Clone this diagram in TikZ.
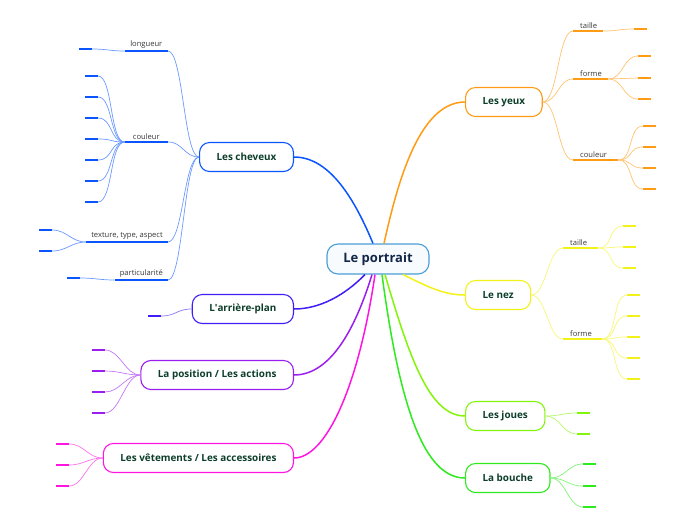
\documentclass[tikz,border=0pt]{standalone}
\usepackage{fontspec}
\setmainfont{Open Sans}
\usepackage{tikz}
\usetikzlibrary{positioning,calc}

\definecolor{hubLine}{RGB}{74,158,214}
\definecolor{hubFill}{RGB}{247,251,254}
\definecolor{hubText}{RGB}{18,38,72}
\definecolor{boxText}{RGB}{12,62,42}
\definecolor{labelText}{RGB}{55,55,55}
\definecolor{cChev}{RGB}{10,85,255}
\definecolor{cArr}{RGB}{65,30,245}
\definecolor{cPos}{RGB}{155,30,240}
\definecolor{cVet}{RGB}{255,20,225}
\definecolor{cYeux}{RGB}{255,155,20}
\definecolor{cNez}{RGB}{242,242,25}
\definecolor{cJoues}{RGB}{130,245,10}
\definecolor{cBouche}{RGB}{45,235,30}

\tikzset{
  hub/.style={draw=hubLine, fill=hubFill, line width=1.1pt, rounded corners=11pt,
    minimum width=102pt, minimum height=30pt, text=hubText,
    font=\fontsize{13}{15}\selectfont\bfseries},
  branch/.style={draw=#1, fill=white, line width=1.1pt, rounded corners=10pt,
    minimum height=29pt, inner xsep=17pt, text=boxText,
    font=\fontsize{9.9}{12}\selectfont\bfseries},
  main/.style={draw=#1, line width=1.5pt},
  sub/.style={draw=#1!60, line width=0.7pt},
  toL/.style={out=180, in=0, distance=15pt},
  toR/.style={out=0, in=180, distance=15pt},
  topic/.style={font=\fontsize{7.6}{9}\selectfont, text=labelText, inner xsep=5pt,
    inner ysep=2.5pt, minimum width=43pt,
    append after command={(\tikzlastnode.south west) edge[draw=#1, line width=2pt] (\tikzlastnode.south east)}},
  topicR/.style={topic=#1, minimum width=0pt, inner xsep=7pt, align=left, anchor=south west},
  leaf/.style={fill=#1, minimum width=13pt, minimum height=2pt, inner sep=0pt}
}

\begin{document}
\begin{tikzpicture}[x=1pt,y=-1pt]
\useasboundingbox (0,0) rectangle (696,520);

% centre
\node[hub] (hub) at (378,259) {Le portrait};

% main branches
\node[branch=cChev, anchor=east] (cheveux) at (294,157) {Les cheveux};
\node[branch=cArr, anchor=east] (arriere) at (294,309) {L\textquotesingle arrière-plan};
\node[branch=cPos, anchor=east] (position) at (294,375) {La position / Les actions};
\node[branch=cVet, anchor=east] (vetements) at (294,458) {Les vêtements / Les accessoires};
\node[branch=cYeux, anchor=west] (yeux) at (465,102) {Les yeux};
\node[branch=cNez, anchor=west] (nez) at (465,295) {Le nez};
\node[branch=cJoues, anchor=west] (joues) at (465,416) {Les joues};
\node[branch=cBouche, anchor=west] (bouche) at (465,478) {La bouche};

\draw[main=cChev] ([xshift=-5pt]hub.north) .. controls (355,200) and (330,157) .. (cheveux.east);
\draw[main=cYeux] ([xshift=6pt]hub.north) .. controls (398,180) and (420,102) .. (yeux.west);
\draw[main=cArr] ([xshift=-13pt]hub.south) .. controls (345,295) and (320,309) .. (arriere.east);
\draw[main=cPos] ([xshift=-6pt]hub.south) .. controls (355,330) and (330,375) .. (position.east);
\draw[main=cVet] ([xshift=-3pt]hub.south) .. controls (358,390) and (325,458) .. (vetements.east);
\draw[main=cNez] ([xshift=25pt]hub.south) .. controls (430,288) and (445,295) .. (nez.west);
\draw[main=cJoues] ([xshift=7pt]hub.south) .. controls (410,360) and (430,416) .. (joues.west);
\draw[main=cBouche] ([xshift=4pt]hub.south) .. controls (400,410) and (425,478) .. (bouche.west);

% les cheveux
\node[topic=cChev, anchor=south east] (chLong) at (168,51) {longueur};
\node[topic=cChev, anchor=south east] (chCoul) at (168,142) {couleur};
\node[topic=cChev, anchor=south east] (chText) at (168,242) {texture, type, aspect};
\node[topic=cChev, anchor=south east] (chPart) at (168,280) {particularité};
\foreach \t in {chLong,chCoul,chText,chPart}
  \draw[sub=cChev] (cheveux.west) to[toL] (\t.south east);

\node[leaf=cChev, anchor=east] (chLong1) at (92,49) {};
\draw[sub=cChev] (chLong.south west) to[toL] (chLong1.east);
\foreach \y [count=\i] in {76,97,118,139,160,181,202} {
  \node[leaf=cChev, anchor=east] (chCoul\i) at (98,\y) {};
  \draw[sub=cChev] (chCoul.south west) to[toL] (chCoul\i.east);
}
\foreach \y [count=\i] in {230,251} {
  \node[leaf=cChev, anchor=east] (chText\i) at (52,\y) {};
  \draw[sub=cChev] (chText.south west) to[toL] (chText\i.east);
}
\node[leaf=cChev, anchor=east] (chPart1) at (80,278) {};
\draw[sub=cChev] (chPart.south west) to[toL] (chPart1.east);

% l'arriere-plan, la position, les vetements
\node[leaf=cArr, anchor=east] (arr1) at (161,316) {};
\draw[sub=cArr] (arriere.west) to[toL] (arr1.east);
\foreach \y [count=\i] in {350,371,392,413} {
  \node[leaf=cPos, anchor=east] (pos\i) at (105,\y) {};
  \draw[sub=cPos] (position.west) to[toL] (pos\i.east);
}
\foreach \y [count=\i] in {444,465,486} {
  \node[leaf=cVet, anchor=east] (vet\i) at (69,\y) {};
  \draw[sub=cVet] (vetements.west) to[toL] (vet\i.east);
}

% les yeux
\node[topicR=cYeux, text width=16pt] (yTaille) at (573,31) {taille};
\node[topicR=cYeux, text width=21pt] (yForme) at (573,79) {forme};
\node[topicR=cYeux, text width=31pt] (yCoul) at (573,160) {couleur};
\foreach \t in {yTaille,yForme,yCoul}
  \draw[sub=cYeux] (yeux.east) to[toR] (\t.south west);
\node[leaf=cYeux, anchor=west] (yTaille1) at (634,29) {};
\draw[sub=cYeux] (yTaille.south east) to[toR] (yTaille1.west);
\foreach \y [count=\i] in {56,78,99} {
  \node[leaf=cYeux, anchor=west] (yForme\i) at (638,\y) {};
  \draw[sub=cYeux] (yForme.south east) to[toR] (yForme\i.west);
}
\foreach \y [count=\i] in {126,147,168,189} {
  \node[leaf=cYeux, anchor=west] (yCoul\i) at (643,\y) {};
  \draw[sub=cYeux] (yCoul.south east) to[toR] (yCoul\i.west);
}

% le nez
\node[topicR=cNez, text width=21pt] (nTaille) at (563,248) {taille};
\node[topicR=cNez, text width=25pt] (nForme) at (563,339) {forme};
\foreach \t in {nTaille,nForme}
  \draw[sub=cNez] (nez.east) to[toR] (\t.south west);
\foreach \y [count=\i] in {226,247,268} {
  \node[leaf=cNez, anchor=west] (nTaille\i) at (623,\y) {};
  \draw[sub=cNez] (nTaille.south east) to[toR] (nTaille\i.west);
}
\foreach \y [count=\i] in {295,316,337,358,379} {
  \node[leaf=cNez, anchor=west] (nForme\i) at (627,\y) {};
  \draw[sub=cNez] (nForme.south east) to[toR] (nForme\i.west);
}

% les joues, la bouche
\foreach \y [count=\i] in {413,434} {
  \node[leaf=cJoues, anchor=west] (jou\i) at (577,\y) {};
  \draw[sub=cJoues] (joues.east) to[toR] (jou\i.west);
}
\foreach \y [count=\i] in {464,486,507} {
  \node[leaf=cBouche, anchor=west] (bou\i) at (583,\y) {};
  \draw[sub=cBouche] (bouche.east) to[toR] (bou\i.west);
}
\end{tikzpicture}
\end{document}
